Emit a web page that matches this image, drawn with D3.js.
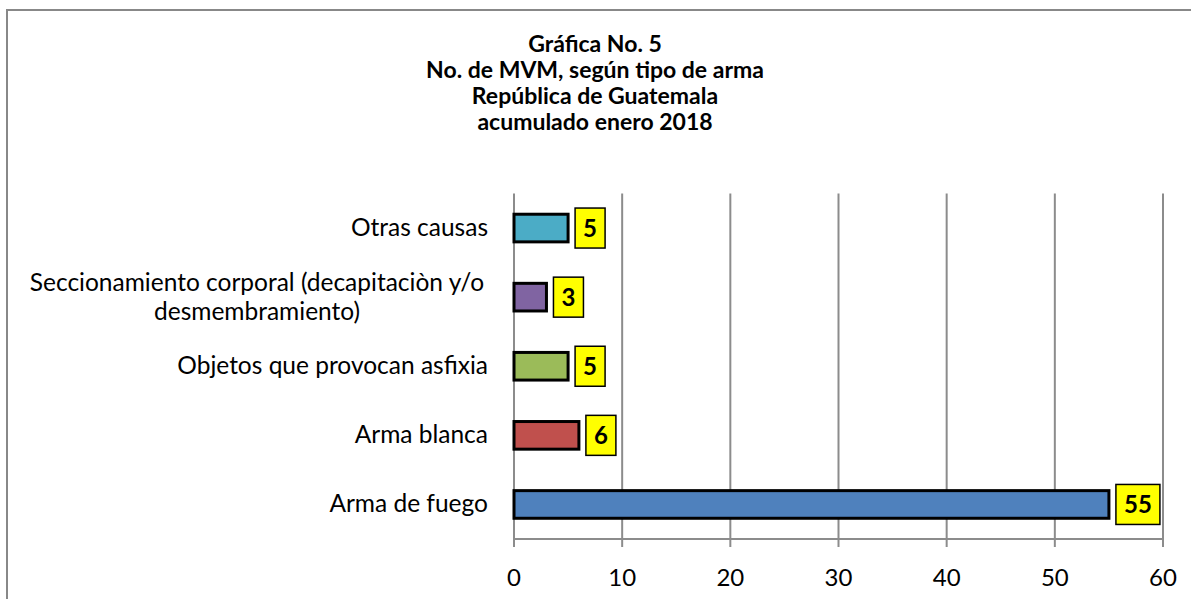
<!DOCTYPE html>
<html>
<head>
<meta charset="utf-8">
<script src="https://cdn.jsdelivr.net/npm/d3@7"></script>
<style>
  body { margin: 0; background: #fff; }
  svg { display: block; font-family: Lato, "Open Sans", sans-serif; }
</style>
</head>
<body>
<svg id="chart"></svg>
<script>
// data
var categories = ["Otras causas",
  "Seccionamiento corporal (decapitaciòn y/o|desmembramiento)",
  "Objetos que provocan asfixia",
  "Arma blanca",
  "Arma de fuego"],
values = [5, 3, 5, 6, 55],
colors = ["#4BACC6", "#8064A2", "#9BBB59", "#C0504D", "#4F81BD"],
ticks = [0, 10, 20, 30, 40, 50, 60],
titleLines = ["Gráfica No. 5", "No. de MVM, según tipo de arma",
  "República de Guatemala", "acumulado enero 2018"];

var W = 1191, H = 599,
    plotL = 514, plotR = 1163, plotT = 193.5, plotB = 539;

var svg = d3.select("#chart").attr("width", W).attr("height", H);

// outer frame
svg.append("rect")
    .attr("x", 7).attr("y", 10)
    .attr("width", W + 20).attr("height", H + 20)
    .attr("fill", "#fff").attr("stroke", "#888").attr("stroke-width", 2);

var x = d3.scaleLinear().domain([0, 60]).range([plotL, plotR]),
    y = d3.scaleBand().domain(categories).range([plotT, plotB]).paddingInner(0.6).paddingOuter(0.3);

// title
svg.append("text")
    .attr("text-anchor", "middle")
    .style("font-weight", "bold").style("font-size", "23px")
  .selectAll("tspan")
  .data(titleLines)
  .enter().append("tspan")
    .attr("x", 595)
    .attr("y", function(d, i) { return 52 + i * 26; })
    .text(function(d) { return d; });

// gridlines
svg.append("g").selectAll("line")
  .data(ticks)
  .enter().append("line")
    .attr("x1", function(d) { return x(d); }).attr("x2", function(d) { return x(d); })
    .attr("y1", plotT).attr("y2", plotB + 8)
    .attr("stroke", "#8c8c8c").attr("stroke-width", 2);

// x axis line
svg.append("line")
    .attr("x1", plotL).attr("x2", plotR)
    .attr("y1", plotB).attr("y2", plotB)
    .attr("stroke", "#8c8c8c").attr("stroke-width", 2);

svg.append("g").selectAll("text")
  .data(ticks)
  .enter().append("text")
    .attr("x", function(d) { return x(d); })
    .attr("y", 586)
    .attr("text-anchor", "middle")
    .style("font-size", "24px")
    .text(function(d) { return d; });

// category labels
var lab = svg.append("g").selectAll("text")
  .data(categories)
  .enter().append("text")
    .attr("text-anchor", "middle")
    .style("font-size", "24.5px");

lab.each(function(d) {
  var parts = d.split("|"),
      cy = y(d) + y.bandwidth() / 2,
      t = d3.select(this);
  if (parts.length === 1) {
    t.attr("text-anchor", "end");
    t.append("tspan").attr("x", 488).attr("y", cy + 8).text(parts[0]);
  } else {
    parts.forEach(function(p, i) {
      t.append("tspan").attr("x", 257)
        .attr("y", cy + 8 + (i - 0.5) * 29)
        .text(p);
    });
  }
});

// bars
svg.append("g").selectAll("rect")
  .data(values)
  .enter().append("rect")
    .attr("x", x(0))
    .attr("y", function(d, i) { return y(categories[i]); })
    .attr("width", function(d) { return x(d) - x(0); })
    .attr("height", y.bandwidth())
    .attr("fill", function(d, i) { return colors[i]; })
    .attr("stroke", "#000").attr("stroke-width", 3);

// value labels
var vl = svg.append("g").selectAll("g")
  .data(values)
  .enter().append("g")
    .attr("transform", function(d, i) {
      return "translate(" + (x(d) + 7) + "," + (y(categories[i]) + y.bandwidth() / 2) + ")";
    });

vl.append("rect")
    .attr("x", 0).attr("y", -20)
    .attr("width", function(d) { return d >= 10 ? 44 : 30; })
    .attr("height", 40)
    .attr("fill", "#ffff00").attr("stroke", "#000").attr("stroke-width", 1.5);

vl.append("text")
    .attr("x", function(d) { return d >= 10 ? 22 : 15; })
    .attr("y", 8.5)
    .attr("text-anchor", "middle")
    .style("font-weight", "bold").style("font-size", "24px")
    .text(function(d) { return d; });
</script>
</body>
</html>
